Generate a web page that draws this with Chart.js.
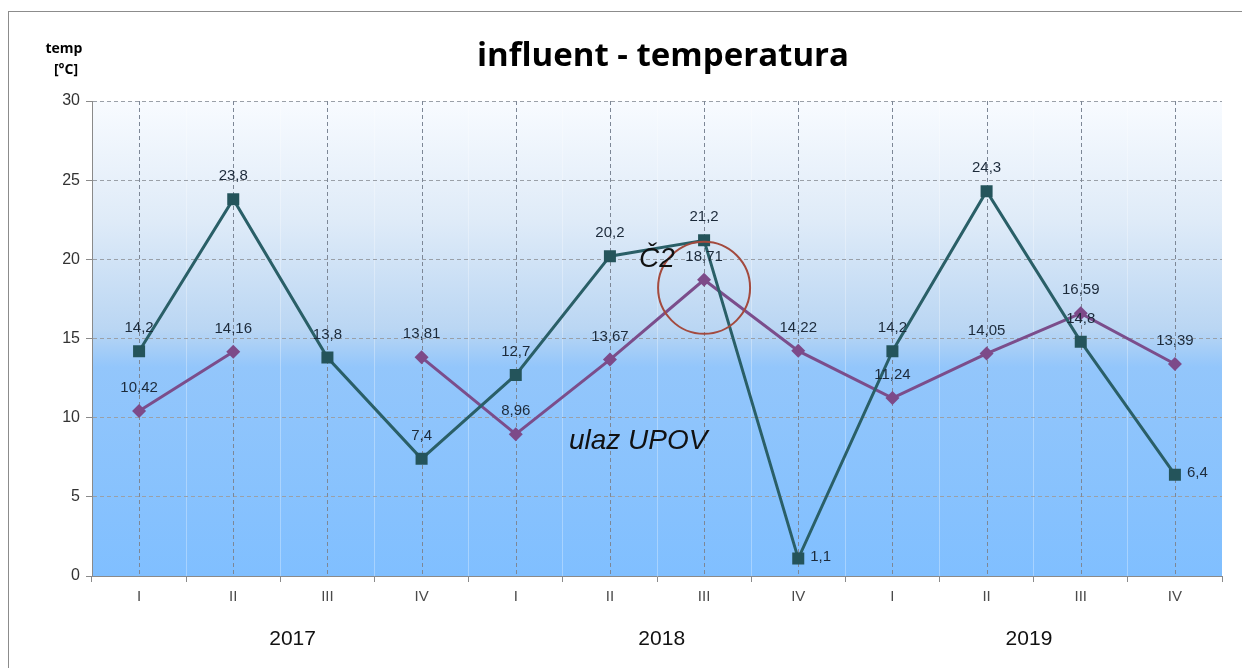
<!DOCTYPE html>
<html>
<head>
<meta charset="utf-8">
<script src="https://cdn.jsdelivr.net/npm/chart.js@4.4.1/dist/chart.umd.min.js"></script>
<style>
  html, body { margin: 0; padding: 0; background: #fff; }
  #wrap { position: relative; width: 1242px; height: 668px; overflow: hidden; }
  #frame { position: absolute; left: 8px; top: 11px; width: 1300px; height: 700px; border: 1px solid #8c8c8c; }
  #c { position: absolute; left: 0; top: 0; }
</style>
</head>
<body>
<div id="wrap">
  <div id="frame"></div>
  <canvas id="c" width="1242" height="668"></canvas>
</div>
<script>
// ======================
// data
// ======================
const quarters = ["I", "II", "III", "IV", "I", "II", "III", "IV", "I", "II", "III", "IV"];
const years = ["2017", "2018", "2019"];
const yearAt = [1.63, 1.55, 1.45];   // year label position inside each group (category units)

const c2Values = [14.2, 23.8, 13.8, 7.4, 12.7, 20.2, 21.2, 1.1, 14.2, 24.3, 14.8, 6.4];
const upovValues = [10.42, 14.16, null, 13.81, 8.96, 13.67, 18.71, 14.22, 11.24, 14.05, 16.59, 13.39];

const yTicks = [0, 5, 10, 15, 20, 25, 30];

// labels drawn to the right of the point instead of above it
const c2RightLabels = [7, 11];

const fmt = v => String(v).replace(".", ",");

// ======================
// plugins
// ======================
const bgPlugin = {
  id: "bg",
  beforeDraw(chart) {
    const { ctx, chartArea: a } = chart;
    const g = ctx.createLinearGradient(0, a.top, 0, a.bottom);
    g.addColorStop(0, "#f8fbff");
    g.addColorStop(0.25, "#dfebf8");
    g.addColorStop(0.48, "#bad6f3");
    g.addColorStop(0.56, "#93c6fb");
    g.addColorStop(1, "#80bfff");
    ctx.save();
    ctx.fillStyle = g;
    ctx.fillRect(a.left, a.top, a.right - a.left, a.bottom - a.top);
    ctx.restore();
  },
  beforeDatasetsDraw(chart) {
    // dashed lines through each category
    const { ctx, chartArea: a, scales } = chart;
    ctx.save();
    ctx.strokeStyle = "#7d8796";
    ctx.lineWidth = 1;
    ctx.setLineDash([4, 3]);
    quarters.forEach((q, i) => {
      const x = Math.round(scales.x.getPixelForValue(i)) + 0.5;
      ctx.beginPath();
      ctx.moveTo(x, a.top);
      ctx.lineTo(x, a.bottom);
      ctx.stroke();
    });
    ctx.restore();
  }
};

const labelPlugin = {
  id: "labels",
  afterDatasetsDraw(chart) {
    const { ctx, scales } = chart;
    ctx.save();
    ctx.font = "15px 'Liberation Sans', Arial, sans-serif";
    ctx.fillStyle = "#1c2a3a";
    ctx.textBaseline = "middle";
    chart.data.datasets.forEach((ds, di) => {
      const meta = chart.getDatasetMeta(di);
      meta.data.forEach((pt, i) => {
        const v = ds.data[i];
        if (v == null) return;
        if (di === 0 && c2RightLabels.includes(i)) {
          ctx.textAlign = "left";
          ctx.fillText(fmt(v), pt.x + 12, pt.y - 2);
        } else {
          ctx.textAlign = "center";
          ctx.fillText(fmt(v), pt.x, pt.y - 23);
        }
      });
    });

    // annotations
    const cx = scales.x.getPixelForValue(6);
    const cy = scales.y.getPixelForValue(18.2);
    ctx.strokeStyle = "#a34a3e";
    ctx.lineWidth = 2;
    ctx.beginPath();
    ctx.arc(cx, cy, 46, 0, Math.PI * 2);
    ctx.stroke();

    ctx.fillStyle = "#111";
    ctx.textAlign = "center";
    ctx.font = "italic 28px 'Liberation Sans', Arial, sans-serif";
    ctx.fillText("Č2", scales.x.getPixelForValue(5.5), scales.y.getPixelForValue(20));
    ctx.fillText("ulaz UPOV", scales.x.getPixelForValue(5.3), scales.y.getPixelForValue(8.5));
    ctx.restore();
  },
  afterDraw(chart) {
    const { ctx, scales } = chart;
    ctx.save();
    ctx.fillStyle = "#000";
    ctx.textAlign = "center";
    ctx.textBaseline = "middle";
    ctx.font = "bold 33px 'Open Sans', sans-serif";
    ctx.fillText("influent - temperatura", 663, 57);

    ctx.font = "bold 14px 'Open Sans', sans-serif";
    ctx.fillText("temp", 64, 49);
    ctx.fillText("[°C]", 66, 70);

    ctx.font = "21px 'Liberation Sans', Arial, sans-serif";
    ctx.fillStyle = "#111";
    years.forEach((y, i) => {
      ctx.fillText(y, scales.x.getPixelForValue(i * 4 + yearAt[i]), 639);
    });
    ctx.restore();
  }
};

// ======================
// chart
// ======================
new Chart(document.getElementById("c"), {
  type: "line",
  data: {
    labels: quarters,
    datasets: [
      {
        label: "Č2",
        data: c2Values,
        borderColor: "#2a5f67",
        backgroundColor: "#24545b",
        borderWidth: 3,
        pointStyle: "rect",
        pointRadius: 8.5,
        pointBorderWidth: 0,
        tension: 0
      },
      {
        label: "ulaz UPOV",
        data: upovValues,
        borderColor: "#7b4d8b",
        backgroundColor: "#7d4a89",
        borderWidth: 3,
        pointStyle: "rectRot",
        pointRadius: 7,
        pointBorderWidth: 0,
        tension: 0
      }
    ]
  },
  options: {
    responsive: false,
    animation: false,
    layout: { padding: { top: 101, right: 20, left: 0, bottom: 0 } },
    plugins: {
      legend: { display: false },
      tooltip: { enabled: false },
      title: { display: false }
    },
    scales: {
      x: {
        offset: true,
        grid: {
          offset: true,
          color: "rgba(255,255,255,0.3)",
          tickColor: "#8a8a8a",
          tickLength: 6
        },
        border: { color: "#8a8a8a" },
        ticks: {
          color: "#4a4a4a",
          font: { family: "'Liberation Sans', Arial, sans-serif", size: 15 },
          padding: 6
        },
        afterFit: s => { s.height = 92; }
      },
      y: {
        min: 0,
        max: 30,
        afterBuildTicks: s => { s.ticks = yTicks.map(v => ({ value: v })); },
        grid: {
          color: "#9aa0a8",
          tickColor: "#8a8a8a",
          tickLength: 6
        },
        border: { color: "#8a8a8a", dash: [4, 3] },
        ticks: {
          color: "#333",
          font: { family: "'Liberation Sans', Arial, sans-serif", size: 16 },
          padding: 6
        },
        afterFit: s => { s.width = 92; }
      }
    }
  },
  plugins: [bgPlugin, labelPlugin]
});
</script>
</body>
</html>
